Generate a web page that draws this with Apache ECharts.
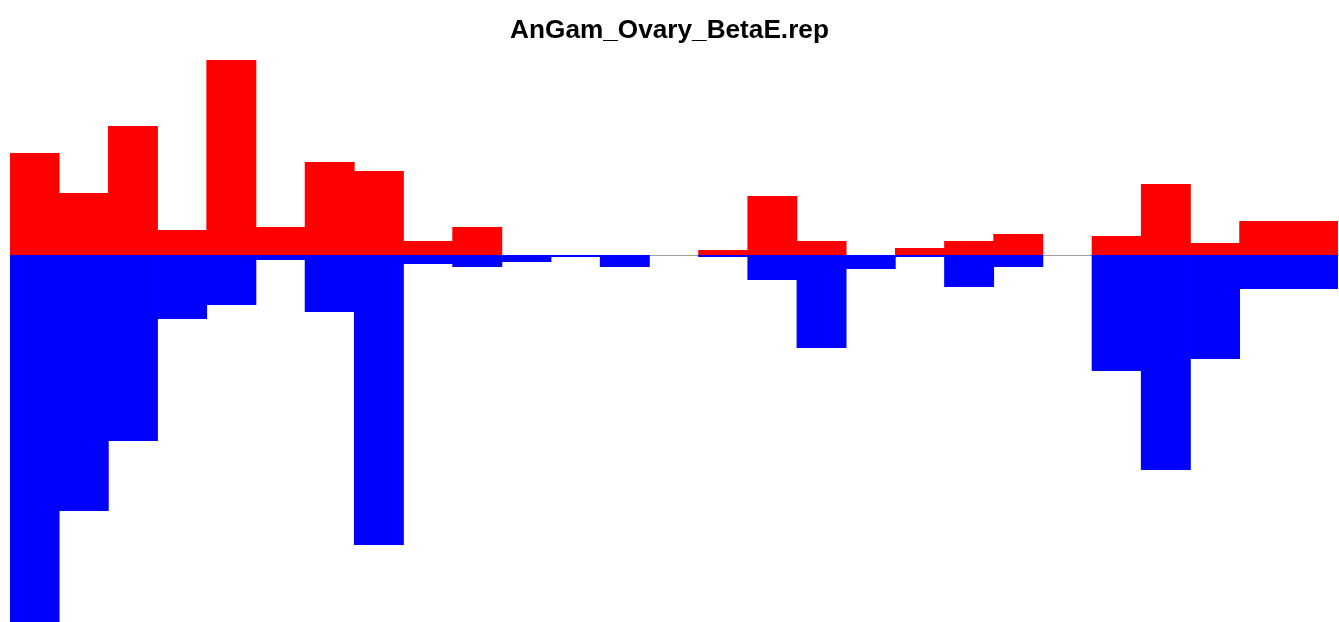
<!DOCTYPE html>
<html>
<head>
<meta charset="utf-8">
<script src="https://cdn.jsdelivr.net/npm/echarts@6/dist/echarts.min.js"></script>
<style>
html,body{margin:0;padding:0;background:#fff;}
#chart{width:1339px;height:622px;}
</style>
</head>
<body>
<div id="chart"></div>
<script>
var titleText = "AnGam_Ovary_BetaE.rep";
var categories = ["1","2","3","4","5","6","7","8","9","10","11","12","13","14","15","16","17","18","19","20","21","22","23","24","25","26","27"];
var upValues = [102, 62, 129, 25, 195, 28, 93, 84, 14, 28, 0, 0, 0, 0, 5, 59, 14, 0, 7, 14, 21, 0, 19, 71, 12, 34, 34];
var downValues = [-367, -256, -186, -64, -50, -5, -57, -290, -9, -12, -7, -2, -12, 0, -2, -25, -93, -14, -2, -32, -12, 0, -116, -215, -104, -34, -34];

var chart = echarts.init(document.getElementById('chart'), null, {renderer: 'canvas'});
chart.setOption({
  animation: false,
  backgroundColor: '#ffffff',
  title: {
    text: titleText,
    left: 'center',
    top: 13,
    padding: [5, 0, 5, 7],
    textStyle: {fontFamily: 'Liberation Sans, Arial, sans-serif', fontWeight: 'bold', fontSize: 26.2, color: '#000'}
  },
  grid: {left: 10, right: 1, top: 60, bottom: 0, containLabel: false},
  xAxis: {
    type: 'category',
    data: categories,
    boundaryGap: true,
    axisLine: {show: true, onZero: true, lineStyle: {color: '#a0a0a0', width: 1}},
    axisTick: {show: false},
    axisLabel: {show: false},
    splitLine: {show: false}
  },
  yAxis: {
    type: 'value',
    min: -367,
    max: 195,
    show: false,
    splitLine: {show: false}
  },
  series: [
    {
      type: 'bar',
      data: upValues,
      barWidth: '101.5%',
      barGap: '-100%',
      itemStyle: {color: '#ff0000'}
    },
    {
      type: 'bar',
      data: downValues,
      barWidth: '101.5%',
      barGap: '-100%',
      itemStyle: {color: '#0000ff'}
    }
  ]
});
</script>
</body>
</html>
